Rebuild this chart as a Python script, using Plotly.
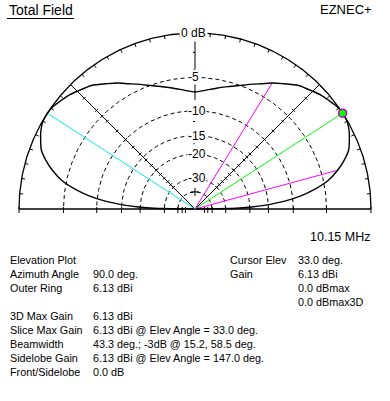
import numpy as np
import plotly.graph_objects as go

# ---------------- data ----------------
elev_angles = [0, 1, 2, 3, 5, 7, 9, 12, 15.2, 18, 21, 24, 27, 30, 33, 36, 39, 42, 45, 50,
               55, 58.5, 62, 65, 70, 75, 80, 85, 90,
               95, 100, 105, 110, 115, 118, 121.5, 125, 130, 135, 138, 141, 144, 147, 150,
               153, 156, 159, 162, 164.8, 168, 171, 173, 175, 177, 178, 179, 180]
gain_db = [-99, -25, -19.5, -16, -11.5, -8.7, -6.7, -4.45, -3.0, -2.0, -1.15, -0.7, -0.3, -0.05, 0.0, -0.1, -0.36, -0.6, -0.95, -1.5,
           -2.4, -3.0, -3.7, -4.2, -5.0, -5.65, -6.2, -6.7, -7.0,
           -6.7, -6.2, -5.65, -5.0, -4.2, -3.7, -3.0, -2.4, -1.5, -0.95, -0.6, -0.36, -0.1, 0.0, -0.05,
           -0.3, -0.7, -1.15, -2.0, -3.0, -4.45, -6.7, -8.7, -11.5, -16, -19.5, -25, -99]

ring_db = [-5, -10, -15, -20, -30, -40]
ring_labels = ["-5", "-10", "-15", "-20", "-30"]
outer_label = "0 dB"

cursor_elev = 33.0
beam_edges = [15.2, 58.5]
beam_edge_db = -3.0
sidelobe_elev = 147.0

title_left = "Total Field"
title_right = "EZNEC+"
freq_text = "10.15 MHz"

info_left_labels = ["Elevation Plot", "Azimuth Angle", "Outer Ring", "", "3D Max Gain",
                    "Slice Max Gain", "Beamwidth", "Sidelobe Gain", "Front/Sidelobe"]
info_left_values = ["", "90.0 deg.", "6.13 dBi", "", "6.13 dBi",
                    "6.13 dBi @ Elev Angle = 33.0 deg.", "43.3 deg.; -3dB @ 15.2, 58.5 deg.",
                    "6.13 dBi @ Elev Angle = 147.0 deg.", "0.0 dB"]
info_right_labels = ["Cursor Elev", "Gain", "", ""]
info_right_values = ["33.0 deg.", "6.13 dBi", "0.0 dBmax", "0.0 dBmax3D"]

# ---------------- geometry helpers ----------------
W, H = 390, 401
CX, CY, R = 195, 209, 176.0  # pixel centre and outer radius

def rho(db):
    # ARRL log scale: 0.89 per 2 dB
    return 0.89 ** (abs(np.asarray(db, dtype=float)) / 2.0)

def polar_xy(ang_deg, db):
    a = np.radians(np.asarray(ang_deg, dtype=float))
    r = rho(db)
    return r * np.cos(a), r * np.sin(a)

def px(x_pix, y_pix):
    return (x_pix - CX) / R, (CY - y_pix) / R

FONT = "Arial, Liberation Sans, sans-serif"
fig = go.Figure()

def line(xs, ys, color="black", width=1, dash="solid"):
    fig.add_trace(go.Scatter(x=list(xs), y=list(ys), mode="lines",
                             line=dict(color=color, width=width, dash=dash),
                             hoverinfo="skip", showlegend=False))

th = np.linspace(0, 180, 361)

# dashed rings
for d in ring_db:
    x, y = polar_xy(th, [d] * len(th))
    line(x, y, width=1, dash="4px,3px")

# outer ring
x, y = polar_xy(th, [0] * len(th))
line(x, y, width=1.3)

# outer ring ticks every 5 degrees (inward)
tx, ty = [], []
tick_in = 1 - 3.5 / R
for a in range(5, 180, 5):
    ar = np.radians(a)
    tx += [np.cos(ar), tick_in * np.cos(ar), None]
    ty += [np.sin(ar), tick_in * np.sin(ar), None]
line(tx, ty, width=1)

# baseline
line([-1.0, 1.0], [0, 0], width=1.3)
# baseline ticks
bx, by = [], []
for d in [0, -5, -10, -15, -20, -30, -40, -45, -50]:
    r = float(rho(d))
    for s in (-1, 1):
        bx += [s * r, s * r, None]
        by += [-4 / R, 2 / R, None]
line(bx, by, width=1)

# diagonal lines at 45 and 135 deg with small ticks
for a in (45, 135):
    ar = np.radians(a)
    line([0, np.cos(ar)], [0, np.sin(ar)], width=1)
    dx, dy = [], []
    px_ang = ar + np.pi / 2
    h = 2.0 / R
    for d in range(-2, -31, -2):
        r = float(rho(d))
        cx_, cy_ = r * np.cos(ar), r * np.sin(ar)
        dx += [cx_ - h * np.cos(px_ang), cx_ + h * np.cos(px_ang), None]
        dy += [cy_ - h * np.sin(px_ang), cy_ + h * np.sin(px_ang), None]
    line(dx, dy, width=1)

# vertical axis
line([0, 0], [1.0, float(rho(-8.2))], width=1)
vx, vy = [], []
for d in [-2, -4, -12, -17]:
    r = float(rho(d))
    vx += [-2 / R, 0, None]
    vy += [r, r, None]
line(vx, vy, width=1)
r40 = float(rho(-40))
line([-4 / R, 4 / R], [r40, r40], width=1)
line([0, 0], [r40 - 4 / R, r40 + 4 / R], width=1)

# coloured lines
x, y = polar_xy([sidelobe_elev], [0])
line([0, x[0]], [0, y[0]], color="#00F0F0", width=1)
x, y = polar_xy([cursor_elev], [0])
line([0, x[0]], [0, y[0]], color="#00FF00", width=1)
for a in beam_edges:
    x, y = polar_xy([a], [beam_edge_db])
    line([0, x[0]], [0, y[0]], color="#FF00FF", width=1)

# pattern
x, y = polar_xy(elev_angles, gain_db)
fig.add_trace(go.Scatter(x=x, y=y, mode="lines", line=dict(color="black", width=1.4, shape="spline", smoothing=0.6),
                         hoverinfo="skip", showlegend=False))

# cursor marker
x, y = polar_xy([cursor_elev], [0])
fig.add_trace(go.Scatter(x=x, y=y, mode="markers",
                         marker=dict(symbol="circle", size=8, color="#00FF00",
                                     line=dict(color="#C000C0", width=1.5)),
                         hoverinfo="skip", showlegend=False))

annos = []
# ring labels
for lab, d in zip(ring_labels, ring_db):
    annos.append(dict(x=px(187, 0)[0], y=float(rho(d)), text=lab, xanchor="left", yanchor="middle",
                      showarrow=False, bgcolor="white", borderpad=0,
                      font=dict(family=FONT, size=12, color="black")))
annos.append(dict(x=px(179, 0)[0], y=1.0, text=outer_label, xanchor="left", yanchor="middle",
                  showarrow=False, bgcolor="white", borderpad=1,
                  font=dict(family=FONT, size=12, color="black")))

def text_at(xp, yp, t, size=10.8, anchor="left"):
    if not t:
        return
    x_, y_ = px(xp, yp)
    annos.append(dict(x=x_, y=y_, text=t, xanchor=anchor, yanchor="middle", showarrow=False,
                      font=dict(family=FONT, size=size, color="black")))

text_at(7, 9.5, title_left, size=14)
text_at(374, 9.5, title_right, size=13, anchor="right")
text_at(372, 237, freq_text, size=12.5, anchor="right")

row0, dy_row = 259.5, 14.06
for i, (lab, val) in enumerate(zip(info_left_labels, info_left_values)):
    yy = row0 + i * dy_row
    text_at(8, yy, lab)
    text_at(91, yy, val)
for i, (lab, val) in enumerate(zip(info_right_labels, info_right_values)):
    yy = row0 + i * dy_row
    text_at(228, yy, lab)
    text_at(296, yy, val)

# title underline
ux0, uy = px(7, 18.5)
ux1, _ = px(74, 18.5)

fig.update_layout(
    width=W, height=H,
    margin=dict(l=0, r=0, t=0, b=0),
    paper_bgcolor="white", plot_bgcolor="white",
    xaxis=dict(range=[-CX / R, (W - CX) / R], visible=False, fixedrange=True),
    yaxis=dict(range=[(CY - H) / R, CY / R], visible=False, fixedrange=True),
    annotations=annos,
    shapes=[dict(type="line", x0=ux0, x1=ux1, y0=uy, y1=uy, xref="x", yref="y",
                 line=dict(color="black", width=1))],
    showlegend=False,
)

fig.write_html("out.html")
